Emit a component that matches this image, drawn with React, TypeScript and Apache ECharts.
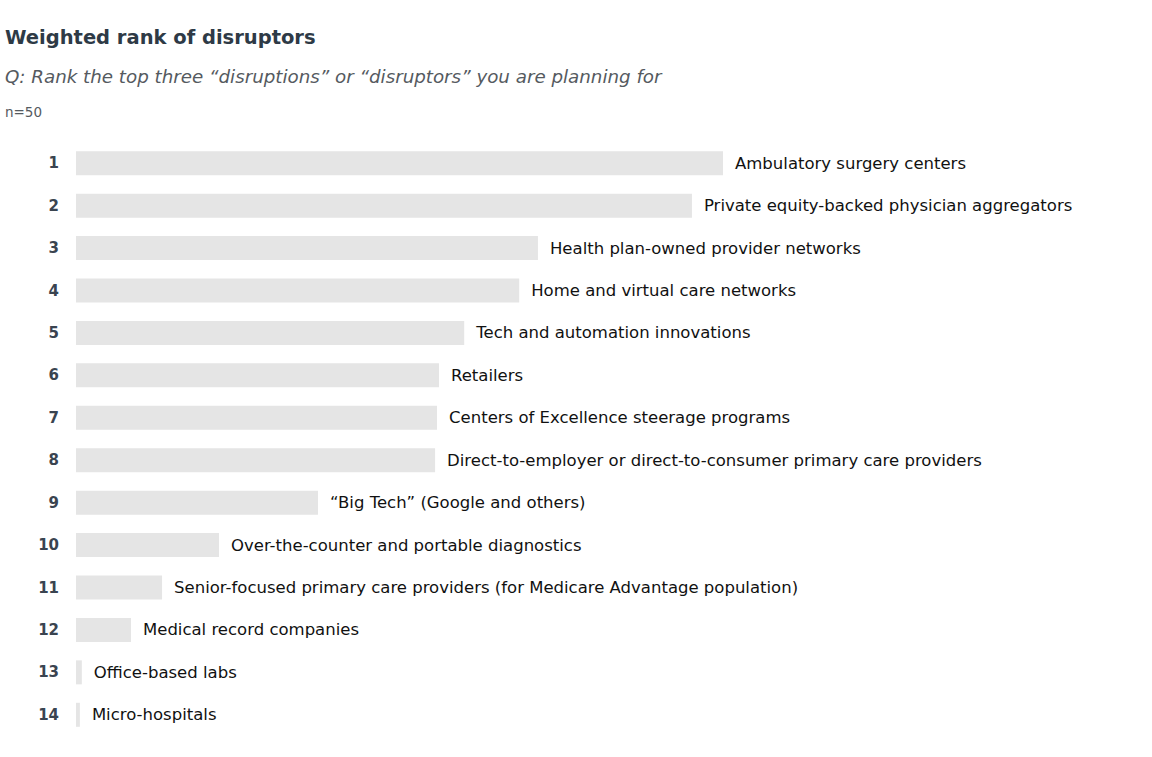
import React, { useEffect, useRef } from "react";
import * as echarts from "echarts";

const ranks = ["1", "2", "3", "4", "5", "6", "7", "8", "9", "10", "11", "12", "13", "14"];
const disruptors = [
  "Ambulatory surgery centers",
  "Private equity-backed physician aggregators",
  "Health plan-owned provider networks",
  "Home and virtual care networks",
  "Tech and automation innovations",
  "Retailers",
  "Centers of Excellence steerage programs",
  "Direct-to-employer or direct-to-consumer primary care providers",
  "\u201cBig Tech\u201d (Google and others)",
  "Over-the-counter and portable diagnostics",
  "Senior-focused primary care providers (for Medicare Advantage population)",
  "Medical record companies",
  "Office-based labs",
  "Micro-hospitals",
];
const scores = [100, 95.2, 71.4, 68.5, 60, 56.1, 55.8, 55.5, 37.4, 22.1, 13.3, 8.5, 0.9, 0.6];

const FONT = "'DejaVu Sans', 'Liberation Sans', Arial, sans-serif";

export default function App() {
  const ref = useRef<HTMLDivElement>(null);
  useEffect(() => {
    if (!ref.current) return;
    const chart = echarts.init(ref.current, undefined, { renderer: "svg" });
    chart.setOption({
      animation: false,
      backgroundColor: "#ffffff",
      title: [
        {
          text: "Weighted rank of disruptors",
          left: 0,
          top: 22,
          textStyle: { fontFamily: FONT, fontSize: 19.5, fontWeight: "bold", color: "#2e3a46" },
        },
        {
          text: "Q: Rank the top three \u201cdisruptions\u201d or \u201cdisruptors\u201d you are planning for",
          left: 0,
          top: 62,
          textStyle: { fontFamily: FONT, fontSize: 18.25, fontStyle: "italic", fontWeight: "normal", color: "#555a60" },
        },
        {
          text: "n=50",
          left: 0,
          top: 100,
          textStyle: { fontFamily: FONT, fontSize: 13.5, fontWeight: "normal", color: "#555a60" },
        },
      ],
      grid: { left: 76, right: 429, top: 142, bottom: 21, containLabel: false },
      xAxis: {
        type: "value",
        min: 0,
        max: 100,
        show: false,
      },
      yAxis: {
        type: "category",
        data: ranks,
        inverse: true,
        axisLine: { show: false },
        axisTick: { show: false },
        axisLabel: {
          margin: 17,
          fontFamily: FONT,
          fontSize: 15,
          fontWeight: "bold",
          color: "#3a4450",
        },
      },
      series: [
        {
          type: "bar",
          data: scores.map((v, i) => ({ value: v, name: disruptors[i] })),
          barWidth: 24,
          itemStyle: { color: "#e5e5e5" },
          label: {
            show: true,
            position: "right",
            distance: 12,
            formatter: (p: any) => disruptors[p.dataIndex],
            fontFamily: FONT,
            fontSize: 16.5,
            color: "#111111",
          },
        },
      ],
    });
    return () => chart.dispose();
  }, []);
  return (
    <div
      ref={ref}
      style={{ position: "absolute", left: 0, top: 0, width: 1152, height: 757 }}
    />
  );
}
